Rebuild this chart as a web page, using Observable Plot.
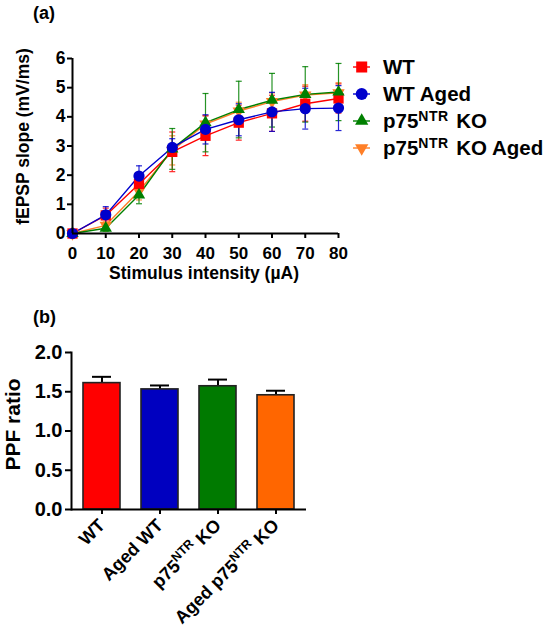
<!DOCTYPE html>
<html>
<head>
<meta charset="utf-8">
<script src="https://cdn.jsdelivr.net/npm/d3@7"></script>
<script src="https://cdn.jsdelivr.net/npm/@observablehq/plot@0.6"></script>
<style>
  body { margin: 0; background: #fff; }
  #wrap { position: relative; width: 551px; height: 628px; overflow: hidden; background: #fff;
          font-family: "Liberation Sans", Arial, sans-serif; font-weight: bold; color: #000; }
  .panel { position: absolute; left: 0; overflow: visible; }
  .tag { position: absolute; font-size: 18px; line-height: 1; }
  .legrow { position: absolute; left: 350px; height: 20px; white-space: nowrap; }
  .legrow svg { position: absolute; left: 0; top: 0; }
  .legrow span.lab { position: absolute; left: 33px; top: 0; font-size: 20.5px; line-height: 20px; }
  .sup { font-size: 14px; position: relative; top: -7.5px; letter-spacing: 0.5px; margin-right: 2px; }
</style>
</head>
<body>
<div id="wrap"></div>
<script>
// ---------- data: panel (a) input-output curves ----------
const intensity = [0, 10, 20, 30, 40, 50, 60, 70, 80];
const xTicks = [0, 10, 20, 30, 40, 50, 60, 70, 80];
const yTicksA = [0, 1, 2, 3, 4, 5, 6];

const wtMean      = [0, 0.62, 1.70, 2.80, 3.35, 3.80, 4.12, 4.45, 4.63];
const wtSem       = [0, 0.25, 0.35, 0.68, 0.68, 0.60, 0.62, 0.60, 0.50];
const wtAgedMean  = [0, 0.64, 1.97, 2.95, 3.57, 3.90, 4.17, 4.28, 4.30];
const wtAgedSem   = [0, 0.28, 0.35, 0.30, 0.50, 0.55, 0.67, 0.70, 0.77];
const koMean      = [0, 0.18, 1.32, 2.90, 3.80, 4.25, 4.57, 4.77, 4.85];
const koSem       = [0, 0.10, 0.30, 0.70, 1.00, 0.97, 0.92, 0.95, 0.98];
const koAgedMean  = [0, 0.28, 1.45, 2.85, 3.75, 4.20, 4.52, 4.75, 4.82];
const koAgedSem   = [0, 0.12, 0.30, 0.50, 0.30, 0.30, 0.30, 0.35, 0.35];

const seriesNames = ["WT", "WT Aged", "p75NTR KO", "p75NTR KO Aged"];
const seriesMeans = [wtMean, wtAgedMean, koMean, koAgedMean];
const seriesSems  = [wtSem, wtAgedSem, koSem, koAgedSem];

// ---------- data: panel (b) paired-pulse facilitation ----------
const groups  = ["WT", "Aged WT", "p75NTR KO", "Aged p75NTR KO"];
const ppf     = [1.61, 1.53, 1.57, 1.455];
const ppfSem  = [0.08, 0.05, 0.085, 0.058];
const yTicksB = [0, 0.5, 1.0, 1.5, 2.0];

// ---------- styles ----------
const lineColors = ["#ff0000", "#0000cc", "#008000", "#ff7f27"];
const symbols    = ["square", "circle", "triangle", "triangle"];
const rotations  = [0, 0, 0, 180];
const radii      = [5.8, 5.6, 4.6, 4.6];
const barColors  = ["#ff0000", "#0000c0", "#007a00", "#ff6600"];
const FONT = '"Liberation Sans", Arial, sans-serif';

const wrap = document.getElementById("wrap");

// horizontal cap symbol for error bars
const capSymbol = { draw(ctx, size) { const w = Math.sqrt(size / Math.PI); ctx.moveTo(-w, 0); ctx.lineTo(w, 0); } };

// build rows per series
const rows = seriesNames.map((name, i) =>
  intensity.map((x, j) => ({ series: name, x, y: seriesMeans[i][j], e: seriesSems[i][j] })));

const drawOrder = [3, 0, 2, 1]; // orange, red, green, blue (blue on top)

const marksA = [];
for (const i of drawOrder) {
  const d = rows[i];
  const de = d.filter(r => r.e > 0);
  marksA.push(Plot.ruleX(de, { x: "x", y1: r => r.y - r.e, y2: r => r.y + r.e, stroke: lineColors[i], strokeWidth: 1.2, strokeOpacity: 0.85 }));
  marksA.push(Plot.dot(de, { x: "x", y: r => r.y + r.e, symbol: capSymbol, r: 3, stroke: lineColors[i], strokeWidth: 1.2, fill: "none", strokeOpacity: 0.85 }));
  marksA.push(Plot.dot(de, { x: "x", y: r => r.y - r.e, symbol: capSymbol, r: 3, stroke: lineColors[i], strokeWidth: 1.2, fill: "none", strokeOpacity: 0.85 }));
  marksA.push(Plot.line(d, { x: "x", y: "y", stroke: lineColors[i], strokeWidth: 1.4 }));
}
for (const i of drawOrder) {
  marksA.push(Plot.dot(rows[i], { x: "x", y: "y", symbol: symbols[i], rotate: rotations[i], r: radii[i], fill: lineColors[i], stroke: "none" }));
}

const chartA = Plot.plot({
  width: 551, height: 290,
  marginLeft: 72, marginRight: 213, marginTop: 58, marginBottom: 57,
  style: { fontFamily: FONT, fontWeight: "bold", fontSize: "17px", color: "#000", background: "transparent" },
  x: { domain: [0, 80] },
  y: { domain: [0, 6] },
  marks: [
    Plot.axisX({ ticks: xTicks, tickFormat: d3.format("d"), tickSize: 5, tickPadding: 8, strokeWidth: 2, fontSize: 17, label: null }),
    Plot.axisY({ ticks: yTicksA, tickFormat: d3.format("d"), tickSize: 5, tickPadding: 2, strokeWidth: 2, fontSize: 17.5, label: null }),
    ...marksA,
    Plot.ruleY([0], { stroke: "#000", strokeWidth: 2 }),
    Plot.ruleX([0], { stroke: "#000", strokeWidth: 2 }),
    Plot.text(["fEPSP slope (mV/ms)"], { text: d => d, frameAnchor: "left", rotate: -90, textAnchor: "middle", lineAnchor: "middle", dx: -49, dy: -9.5, fontSize: 17.5 }),
    Plot.text(["Stimulus intensity (µA)"], { text: d => d, frameAnchor: "bottom", textAnchor: "middle", lineAnchor: "middle", dx: -1.5, dy: 39.5, fontSize: 17.5 })
  ]
});
chartA.classList.add("panel");
chartA.style.top = "0px";
wrap.appendChild(chartA);

// ---------- panel (b) ----------
const bars = groups.map((g, i) => ({ g, v: ppf[i], e: ppfSem[i], c: barColors[i] }));

const chartB = Plot.plot({
  width: 551, height: 338,
  marginLeft: 71, marginRight: 245, marginTop: 62, marginBottom: 119,
  style: { fontFamily: FONT, fontWeight: "bold", fontSize: "18px", color: "#000", background: "transparent" },
  x: { domain: groups, paddingInner: 0.36, paddingOuter: 0.18 },
  y: { domain: [0, 2] },
  color: { type: "identity" },
  marks: [
    Plot.ruleX(bars, { x: "g", y1: "v", y2: d => d.v + d.e, stroke: "#000", strokeWidth: 2 }),
    Plot.tickY(bars, { x: "g", y: d => d.v + d.e, stroke: "#000", strokeWidth: 2, insetLeft: 9, insetRight: 9 }),
    Plot.barY(bars, { x: "g", y: "v", fill: "c", stroke: "#222", strokeWidth: 1.6 }),
    Plot.axisY({ ticks: yTicksB, tickFormat: d3.format(".1f"), tickSize: 6, tickPadding: 3, strokeWidth: 2, fontSize: 20, label: null }),
    Plot.axisX({ tickRotate: -45, tickSize: 5, tickPadding: 8, strokeWidth: 2, fontSize: 18, label: null }),
    Plot.ruleY([0], { stroke: "#000", strokeWidth: 2 }),
    Plot.frame({ anchor: "left", stroke: "#000", strokeWidth: 2 }),
    Plot.text(["PPF ratio"], { text: d => d, frameAnchor: "left", rotate: -90, textAnchor: "middle", lineAnchor: "middle", dx: -58.5, dy: -6.5, fontSize: 21 })
  ]
});
chartB.classList.add("panel");
chartB.style.top = "290px";
wrap.appendChild(chartB);

// superscript "NTR" inside SVG tick labels
d3.select(chartB).selectAll("text").each(function () {
  const t = this.textContent;
  const k = t.indexOf("NTR");
  if (k < 0) return;
  const sel = d3.select(this);
  sel.text(null);
  sel.append("tspan").text(t.slice(0, k));
  sel.append("tspan").attr("font-size", 12.5).attr("dy", -7).text("NTR");
  sel.append("tspan").attr("dy", 7).text(t.slice(k + 3));
});

// ---------- panel tags ----------
function addTag(txt, left, top) {
  const el = document.createElement("div");
  el.className = "tag"; el.textContent = txt;
  el.style.left = left + "px"; el.style.top = top + "px";
  wrap.appendChild(el);
}
addTag("(a)", 33, 4);
addTag("(b)", 33, 308);

// ---------- legend for panel (a) ----------
const legendCenters = [67, 94, 121, 148];
seriesNames.forEach((name, i) => {
  const row = document.createElement("div");
  row.className = "legrow";
  row.style.top = (legendCenters[i] - 10) + "px";
  const svg = d3.create("svg").attr("width", 30).attr("height", 20);
  svg.append("line").attr("x1", 3).attr("x2", 20).attr("y1", 10).attr("y2", 10)
     .attr("stroke", lineColors[i]).attr("stroke-width", 1.4);
  const size = Math.PI * radii[i] * radii[i] * 1.15;
  const sym = { square: d3.symbolSquare, circle: d3.symbolCircle, triangle: d3.symbolTriangle }[symbols[i]];
  svg.append("path").attr("d", d3.symbol(sym, size)())
     .attr("transform", `translate(11.7,10) rotate(${rotations[i]})`).attr("fill", lineColors[i]);
  row.appendChild(svg.node());
  const lab = document.createElement("span");
  lab.className = "lab";
  const k = name.indexOf("NTR");
  if (k < 0) lab.textContent = name;
  else lab.innerHTML = name.slice(0, k) + '<span class="sup">NTR</span>' + name.slice(k + 3);
  row.appendChild(lab);
  wrap.appendChild(row);
});
</script>
</body>
</html>
